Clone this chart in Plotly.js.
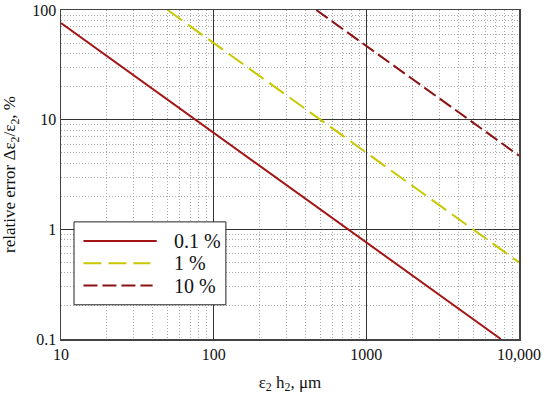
<!DOCTYPE html>
<html>
<head>
<meta charset="utf-8">
<script src="https://cdn.plot.ly/plotly-3.0.1.min.js"></script>
<style>html,body{margin:0;padding:0;background:#fff;}#chart{width:550px;height:399px;}</style>
</head>
<body>
<div id="chart"></div>
<script>
// Data (log-log straight lines)
const seriesNames = ['0.1 %', '1 %', '10 %'];
const x01 = [10, 100, 1000, 7600];
const y01 = [76, 7.6, 0.76, 0.1];
const x1 = [50, 100, 1000, 10000];
const y1 = [100, 50, 5, 0.5];
const x10 = [470, 1000, 10000];
const y10 = [100, 47, 4.7];
const xTickVals = [10, 100, 1000, 10000];
const xTickText = ['10', '100', '1000', '10,000'];
const yTickVals = [0.1, 1, 10, 100];
const yTickText = ['0.1', '1', '10', '100'];

const colors = ['#a31515', '#c9c800', '#8b1212'];
const dashes = ['solid', '18px,7px', '14px,5px'];
const FONT = '"Liberation Serif", "Times New Roman", serif';

const traces = [
  {x: x01, y: y01, name: seriesNames[0]},
  {x: x1, y: y1, name: seriesNames[1]},
  {x: x10, y: y10, name: seriesNames[2]}
].map((t, i) => Object.assign(t, {
  type: 'scatter', mode: 'lines', showlegend: false,
  line: {color: colors[i], width: 2, dash: dashes[i]}
}));

// custom legend (box + sample lines + labels), in paper coordinates
const legX0 = 0.0284, legX1 = 0.36, legY0 = 0.104, legY1 = 0.356;
const rowY = [0.298, 0.2306, 0.1626];
const lineX0 = 0.049, lineX1 = [0.209, 0.195, 0.2];
const shapes = [{
  type: 'rect', xref: 'paper', yref: 'paper', x0: legX0, x1: legX1, y0: legY0, y1: legY1,
  fillcolor: '#fff', line: {color: '#222', width: 1}, layer: 'above'
}];
const annotations = [];
seriesNames.forEach((n, i) => {
  shapes.push({type: 'line', xref: 'paper', yref: 'paper', x0: lineX0, x1: lineX1[i], y0: rowY[i], y1: rowY[i],
    line: {color: colors[i], width: 2, dash: dashes[i]}, layer: 'above'});
  annotations.push({xref: 'paper', yref: 'paper', x: 0.2415, y: rowY[i], xanchor: 'left', yanchor: 'middle',
    text: n, showarrow: false, font: {family: FONT, size: 20, color: '#111'}});
});

const axisCommon = {
  type: 'log', showline: true, mirror: true, linecolor: '#444', linewidth: 1.5,
  showgrid: true, gridcolor: '#333', gridwidth: 1, zeroline: false,
  ticks: '', tickfont: {family: FONT, size: 16, color: '#111'},
  minor: {showgrid: true, gridcolor: '#a8a8a8', griddash: '1px,2px', gridwidth: 1, dtick: 'D1', ticks: ''}
};

const layout = {
  width: 550, height: 399,
  margin: {l: 61, r: 31, t: 10, b: 60},
  paper_bgcolor: '#fff', plot_bgcolor: '#fff',
  font: {family: FONT},
  showlegend: false,
  xaxis: Object.assign({}, axisCommon, {
    range: [1, 4], tickvals: xTickVals, ticktext: xTickText,
    title: {text: 'ε<sub>2</sub> h<sub>2</sub>, μm', font: {family: FONT, size: 17, color: '#111'}, standoff: 14}
  }),
  yaxis: Object.assign({}, axisCommon, {
    range: [-1, 2], tickvals: yTickVals, ticktext: yTickText,
    title: {text: 'relative error Δε<sub>2</sub>/ε<sub>2</sub>, %', font: {family: FONT, size: 17, color: '#111'}, standoff: 14}
  }),
  shapes: shapes,
  annotations: annotations
};

Plotly.newPlot('chart', traces, layout, {displayModeBar: false, staticPlot: true});
</script>
</body>
</html>
